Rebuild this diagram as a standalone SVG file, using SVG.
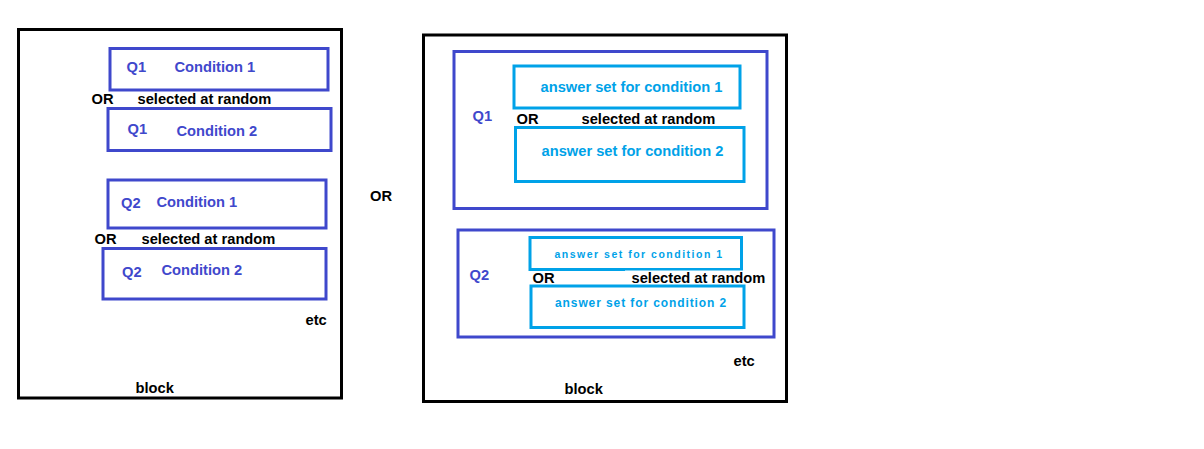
<svg xmlns="http://www.w3.org/2000/svg" width="1204" height="449" viewBox="0 0 1204 449">
<style>
text{font-family:"Liberation Sans",Arial,sans-serif;font-weight:bold;font-size:14.7px}
.blk{fill:none;stroke:#000;stroke-width:3}
.ind{fill:none;stroke:#3F48CC;stroke-width:3}
.tq{fill:none;stroke:#00A2E8;stroke-width:3}
.ti{fill:#3F48CC}
.tt{fill:#00A2E8}
.tk{fill:#000}
</style>
<rect width="1204" height="449" fill="#fff"/>
<g id="block-left">
<rect class="blk" x="18.5" y="29.5" width="323" height="368.5"/>
<text class="tk" x="305.5" y="325">etc</text>
<text class="tk" x="135.5" y="393">block</text>
</g>
<g id="q1c1">
<rect class="ind" x="110" y="48.5" width="218" height="41.5"/>
<text class="ti" x="126.5" y="71.5">Q1</text>
<text class="ti" x="174.5" y="72">Condition 1</text>
</g>
<g id="or-left-1">
<text class="tk" x="91.5" y="103.5">OR</text>
<text class="tk" x="137.5" y="104">selected at random</text>
</g>
<g id="q1c2">
<rect class="ind" x="108" y="108.5" width="223" height="42"/>
<text class="ti" x="127.5" y="133.5">Q1</text>
<text class="ti" x="176.5" y="135.5">Condition 2</text>
</g>
<g id="q2c1">
<rect class="ind" x="108" y="180" width="218" height="48"/>
<text class="ti" x="121" y="207.5">Q2</text>
<text class="ti" x="156.5" y="206.5">Condition 1</text>
</g>
<g id="or-left-2">
<text class="tk" x="94.5" y="243.5">OR</text>
<text class="tk" x="141.5" y="243.5">selected at random</text>
</g>
<g id="q2c2">
<rect class="ind" x="103" y="248.5" width="223" height="50.5"/>
<text class="ti" x="122" y="276.5">Q2</text>
<text class="ti" x="161.5" y="275">Condition 2</text>
</g>
<g id="or-middle">
<text class="tk" x="370" y="200.5">OR</text>
</g>
<g id="block-right">
<rect class="blk" x="423.5" y="35" width="363" height="366.5"/>
<text class="tk" x="733.5" y="365.5">etc</text>
<text class="tk" x="564.5" y="393.5">block</text>
</g>
<g id="q1-group">
<rect class="ind" x="454" y="51.5" width="313" height="157"/>
<text class="ti" x="472.5" y="120.5">Q1</text>
</g>
<g id="q1-a1">
<rect class="tq" x="514" y="66" width="226" height="42"/>
<text class="tt" x="540.5" y="92">answer set for condition 1</text>
</g>
<g id="or-right-1">
<text class="tk" x="516.5" y="124">OR</text>
<text class="tk" x="581.5" y="124">selected at random</text>
</g>
<g id="q1-a2">
<rect class="tq" x="515.5" y="127.5" width="228.5" height="54"/>
<text class="tt" x="541.5" y="155.5">answer set for condition 2</text>
</g>
<g id="q2-group">
<rect class="ind" x="458" y="230" width="316" height="107"/>
<text class="ti" x="469.5" y="280">Q2</text>
</g>
<g id="q2-a1">
<rect class="tq" x="530" y="237.5" width="211.5" height="32"/>
<text class="tt" x="554.5" y="257.5" style="font-size:10.5px;letter-spacing:1.5px">answer set for condition 1</text>
</g>
<g id="or-right-2">
<text class="tk" x="532.5" y="283">OR</text>
<rect x="625" y="270.5" width="143" height="14" fill="#fff"/>
<text class="tk" x="631.5" y="283">selected at random</text>
</g>
<g id="q2-a2">
<rect class="tq" x="531" y="286" width="213" height="41.5"/>
<text class="tt" x="555" y="306.5" style="font-size:12px;letter-spacing:0.9px">answer set for condition 2</text>
</g>
<g id="connectors"></g>
</svg>
